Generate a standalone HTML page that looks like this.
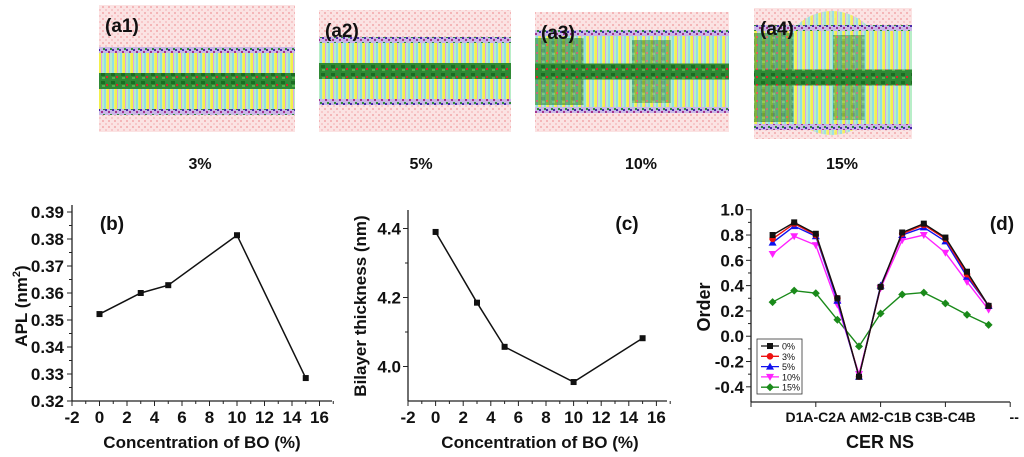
<!DOCTYPE html>
<html><head><meta charset="utf-8">
<style>
html,body{margin:0;padding:0;background:#fff;}
#root{position:relative;width:1024px;height:457px;overflow:hidden;font-family:"Liberation Sans",Arial,sans-serif;}
svg text{font-family:"Liberation Sans",Arial,sans-serif;font-weight:bold;}
</style></head>
<body>
<div id="root">
<svg id="svg" width="1024" height="457" viewBox="0 0 1024 457" xmlns="http://www.w3.org/2000/svg">
<defs>
  <pattern id="water" width="6" height="6" patternUnits="userSpaceOnUse">
    <rect width="6" height="6" fill="#fbe3e3"/>
    <rect x="0" y="0" width="2" height="2" fill="#f4b6b8"/>
    <rect x="3" y="3" width="2" height="2" fill="#f7c8ca"/>
  </pattern>
  <pattern id="tails" width="8" height="10" patternUnits="userSpaceOnUse">
    <rect width="8" height="10" fill="#e9f27a"/>
    <rect x="0" width="2" height="10" fill="#8fe0e6"/>
    <rect x="3" width="2" height="10" fill="#f3f04a"/>
    <rect x="5" width="1" height="10" fill="#d9a6e8"/>
    <rect x="6" width="2" height="10" fill="#b8eec8"/>
  </pattern>
  <pattern id="heads" width="7" height="6" patternUnits="userSpaceOnUse">
    <rect width="7" height="6" fill="#c9b6e6"/>
    <rect x="0" y="1" width="2" height="2" fill="#4a2aa8"/>
    <rect x="3" y="3" width="2" height="2" fill="#a2338f"/>
    <rect x="5" y="0" width="2" height="2" fill="#2f8c3a"/>
  </pattern>
  <pattern id="core" width="10" height="8" patternUnits="userSpaceOnUse">
    <rect width="10" height="8" fill="#2f8a35"/>
    <rect x="1" y="1" width="4" height="3" fill="#1d6b23"/>
    <rect x="6" y="4" width="2" height="2" fill="#e0202a"/>
    <rect x="2" y="5" width="3" height="2" fill="#55b04d"/>
  </pattern>
</defs>
<g id="images"></g>
<g id="chartB"></g>
<g id="chartC"></g>
<g id="chartD"></g>
</svg>
</div>
<script>
// ---------- data ----------
const concB = [0, 3, 5, 10, 15];
const aplValues = [0.3522, 0.3600, 0.3629, 0.3814, 0.3285];
const aplTicks = ["0.32","0.33","0.34","0.35","0.36","0.37","0.38","0.39"];
const concC = [0, 3, 5, 10, 15];
const thickValues = [4.39, 4.185, 4.057, 3.955, 4.082];
const thickTicks = ["4.0","4.2","4.4"];
const xTicksBC = ["-2","0","2","4","6","8","10","12","14","16"];
const orderIdx = [1,2,3,4,5,6,7,8,9,10,11];
const order0 = [0.80, 0.90, 0.81, 0.30, -0.32, 0.39, 0.82, 0.89, 0.78, 0.51, 0.24];
const order3 = [0.77, 0.89, 0.80, 0.30, -0.32, 0.39, 0.81, 0.88, 0.77, 0.49, 0.24];
const order5 = [0.74, 0.87, 0.79, 0.28, -0.32, 0.40, 0.80, 0.86, 0.75, 0.47, 0.24];
const order10 = [0.65, 0.79, 0.72, 0.25, -0.30, 0.38, 0.76, 0.80, 0.66, 0.43, 0.21];
const order15 = [0.27, 0.36, 0.34, 0.13, -0.08, 0.18, 0.33, 0.345, 0.26, 0.17, 0.09];
const orderTicks = ["-0.4","-0.2","0.0","0.2","0.4","0.6","0.8","1.0"];
const seriesNames = ["0%","3%","5%","10%","15%"];
const catLabels = ["D1A-C2A","AM2-C1B","C3B-C4B","--"];
const imgLabels = ["3%","5%","10%","15%"];

const NS = "http://www.w3.org/2000/svg";
function mk(parent, tag, attrs){const e=document.createElementNS(NS,tag);for(const k in attrs)e.setAttribute(k,attrs[k]);parent.appendChild(e);return e;}
function txt(parent,x,y,s,size,anchor){const t=mk(parent,'text',{x:x,y:y,'font-size':size,'text-anchor':anchor||'middle',fill:'#111'});t.textContent=s;return t;}

// ---------- snapshots ----------
const imgG = document.getElementById('images');
const snaps = [
  {x:99,y:5,w:196,h:127,b1:47,b2:115,lbl:"(a1)"},
  {x:319,y:10,w:192,h:122,b1:37,b2:105,lbl:"(a2)"},
  {x:535,y:12,w:194,h:120,b1:30,b2:113,lbl:"(a3)"},
  {x:754,y:8,w:158,h:131,b1:25,b2:130,lbl:"(a4)"}
];
snaps.forEach((s,i)=>{
  const g=mk(imgG,'g',{});
  
  
  mk(g,'rect',{x:s.x,y:s.y,width:s.w,height:s.h,fill:'url(#water)'});
  const bh=s.b2-s.b1;
  if(i===3){
    mk(g,'ellipse',{cx:s.x+78,cy:s.y+65,rx:55,ry:62,fill:'url(#tails)',opacity:0.85});
  }
  mk(g,'rect',{x:s.x,y:s.b1,width:s.w,height:bh,fill:'url(#tails)'});
  mk(g,'rect',{x:s.x,y:s.b1,width:s.w,height:6,fill:'url(#heads)'});
  mk(g,'rect',{x:s.x,y:s.b2-6,width:s.w,height:6,fill:'url(#heads)'});
  mk(g,'rect',{x:s.x,y:s.b1+bh/2-8,width:s.w,height:16,fill:'url(#core)'});
  if(i>=2){
    mk(g,'rect',{x:s.x,y:s.b1+8,width:s.w*0.25,height:bh-16,fill:'url(#core)',opacity:0.6});
    mk(g,'rect',{x:s.x+s.w*0.5,y:s.b1+10,width:s.w*0.2,height:bh-20,fill:'url(#core)',opacity:0.5});
  }
  const t=txt(g,s.x+6,s.y+27,s.lbl,19,'start');
  
  
  const c=txt(g,[200,421,641,842][i],169,imgLabels[i],16);
  
  
});

// ---------- generic axis helpers ----------
function lineChart(gid, cfg){
  const g=document.getElementById(gid);
  const X=v=>cfg.x0+(v-cfg.xmin)*cfg.xs;
  const Y=v=>cfg.y0-(v-cfg.ymin)*cfg.ys;
  const ax=mk(g,'g',{});
  
  
  mk(ax,'line',{x1:cfg.x0,y1:cfg.y0,x2:cfg.xEnd,y2:cfg.y0,stroke:'#222','stroke-width':1.3});
  mk(ax,'line',{x1:cfg.x0,y1:cfg.y0,x2:cfg.x0,y2:cfg.yTop,stroke:'#222','stroke-width':1.3});
  return {g,X,Y,ax};
}

// ---------- chart B ----------
(function(){
  const c=lineChart('chartB',{name:'apl-chart',x0:72,xmin:-2,xs:13.75,y0:401,ymin:0.32,ys:2700,xEnd:332,yTop:205});
  const {g,X,Y,ax}=c;
  aplTicks.forEach(s=>{const v=parseFloat(s);
    mk(ax,'line',{x1:72,y1:Y(v),x2:67,y2:Y(v),stroke:'#222'});
    if(Y(v+0.005)>205) mk(ax,'line',{x1:72,y1:Y(v+0.005),x2:69,y2:Y(v+0.005),stroke:'#222'});
    const t=txt(ax,64,Y(v)+6,s,17,'end');
    
    
  });
  xTicksBC.forEach(s=>{const v=parseFloat(s);
    mk(ax,'line',{x1:X(v),y1:401,x2:X(v),y2:406,stroke:'#222'});
    mk(ax,'line',{x1:X(v+1),y1:401,x2:X(v+1),y2:404,stroke:'#222'});
    const t=txt(ax,X(v),423,s,17);
    
    
  });
  const xt=txt(g,202,448,'Concentration of BO (%)',17);
  
  
  const yt=mk(g,'text',{x:0,y:0,'font-size':17,'text-anchor':'middle',fill:'#111',transform:'translate(27,306) rotate(-90)'});
  yt.textContent='APL (nm';
  const sup=mk(yt,'tspan',{'font-size':11,dy:-7});sup.textContent='2';
  const cl=mk(yt,'tspan',{dy:7});cl.textContent=')';
  
  
  const pl=txt(g,112,230,'(b)',19);
  
  
  const pts=concB.map((v,i)=>X(v)+','+Y(aplValues[i])).join(' ');
  const ln=mk(g,'polyline',{points:pts,fill:'none',stroke:'#111','stroke-width':1.5});
  
  
  concB.forEach((v,i)=>{
    const r=mk(g,'rect',{x:X(v)-3,y:Y(aplValues[i])-3,width:6,height:6,fill:'#111'});
    
    
  });
})();

// ---------- chart C ----------
(function(){
  const c=lineChart('chartC',{name:'thickness-chart',x0:408,xmin:-2,xs:13.8,y0:401,ymin:3.9,ys:345,xEnd:667,yTop:210});
  const {g,X,Y,ax}=c;
  thickTicks.forEach(s=>{const v=parseFloat(s);
    mk(ax,'line',{x1:408,y1:Y(v),x2:403,y2:Y(v),stroke:'#222'});
    if(Y(v+0.1)>210) mk(ax,'line',{x1:408,y1:Y(v+0.1),x2:405,y2:Y(v+0.1),stroke:'#222'});
    const t=txt(ax,401,Y(v)+6,s,17,'end');
    
    
  });
  xTicksBC.forEach(s=>{const v=parseFloat(s);
    mk(ax,'line',{x1:X(v),y1:401,x2:X(v),y2:406,stroke:'#222'});
    mk(ax,'line',{x1:X(v+1),y1:401,x2:X(v+1),y2:404,stroke:'#222'});
    const t=txt(ax,X(v),423,s,17);
    
    
  });
  const xt=txt(g,540,448,'Concentration of BO (%)',17);
  
  
  const yt=mk(g,'text',{x:0,y:0,'font-size':17,'text-anchor':'middle',fill:'#111',transform:'translate(366,306) rotate(-90)'});
  yt.textContent='Bilayer thickness (nm)';
  
  
  const pl=txt(g,627,230,'(c)',19);
  
  
  const pts=concC.map((v,i)=>X(v)+','+Y(thickValues[i])).join(' ');
  const ln=mk(g,'polyline',{points:pts,fill:'none',stroke:'#111','stroke-width':1.5});
  
  
  concC.forEach((v,i)=>{
    const r=mk(g,'rect',{x:X(v)-3,y:Y(thickValues[i])-3,width:6,height:6,fill:'#111'});
    
    
  });
})();

// ---------- chart D ----------
(function(){
  const c=lineChart('chartD',{name:'order-chart',x0:751,xmin:0,xs:21.6,y0:402,ymin:-0.52,ys:126.5,xEnd:1010,yTop:209});
  const {g,X,Y,ax}=c;
  orderTicks.forEach(s=>{const v=parseFloat(s);
    mk(ax,'line',{x1:751,y1:Y(v),x2:746,y2:Y(v),stroke:'#222'});
    if(v<0.95) mk(ax,'line',{x1:751,y1:Y(v+0.1),x2:748,y2:Y(v+0.1),stroke:'#222'});
    const t=txt(ax,744,Y(v)+6,s,17,'end');
    
    
  });
  [0,3,6,9,12].forEach(i=>mk(ax,'line',{x1:X(i),y1:402,x2:X(i),y2:407,stroke:'#222'}));
  catLabels.forEach((s,k)=>{
    const t=txt(ax,X(3*(k+1))+(k===3?4:0),422,s,14);
    
    
  });
  const xt=txt(g,880,448,'CER NS',18);
  
  
  const yt=mk(g,'text',{x:0,y:0,'font-size':18,'text-anchor':'middle',fill:'#111',transform:'translate(710,307) rotate(-90)'});
  yt.textContent='Order';
  
  
  const pl=txt(g,1002,230,'(d)',19);
  
  
  const series=[order15,order10,order5,order3,order0];
  const colors=['#1a8a1a','#ff22ff','#1010ee','#ee1111','#111111'];
  const shapes=['diamond','tridown','triup','circle','square'];
  const names=['15%','10%','5%','3%','0%'];
  function marker(gg,shape,x,y,col){
    let e;
    if(shape==='square') e=mk(gg,'rect',{x:x-3,y:y-3,width:6,height:6,fill:col});
    else if(shape==='circle') e=mk(gg,'circle',{cx:x,cy:y,r:3.3,fill:col});
    else if(shape==='triup') e=mk(gg,'polygon',{points:`${x},${y-4} ${x-4},${y+3} ${x+4},${y+3}`,fill:col});
    else if(shape==='tridown') e=mk(gg,'polygon',{points:`${x},${y+4} ${x-4},${y-3} ${x+4},${y-3}`,fill:col});
    else e=mk(gg,'polygon',{points:`${x},${y-4} ${x+4},${y} ${x},${y+4} ${x-4},${y}`,fill:col});
    return e;
  }
  series.forEach((arr,si)=>{
    const sg=mk(g,'g',{});
    
    
    mk(sg,'polyline',{points:orderIdx.map((v,i)=>X(v)+','+Y(arr[i])).join(' '),fill:'none',stroke:colors[si],'stroke-width':1.4});
    orderIdx.forEach((v,i)=>{
      const m=marker(sg,shapes[si],X(v),Y(arr[i]),colors[si]);
      
      
    });
  });
  const lg=mk(g,'g',{});
  
  
  mk(lg,'rect',{x:757,y:339,width:45,height:55,fill:'#fff',stroke:'#333','stroke-width':0.8});
  seriesNames.forEach((s,k)=>{
    const si=4-k;const yy=346+k*10.3;
    const eg=mk(lg,'g',{});
    
    
    mk(eg,'line',{x1:761,y1:yy,x2:779,y2:yy,stroke:colors[si],'stroke-width':1.3});
    marker(eg,shapes[si],770,yy,colors[si]);
    const t=mk(eg,'text',{x:782,y:yy+3.5,'font-size':9,fill:'#111'});
    t.setAttribute('style','font-weight:normal');
    t.textContent=s;
  });
})();
</script>
</body></html>
